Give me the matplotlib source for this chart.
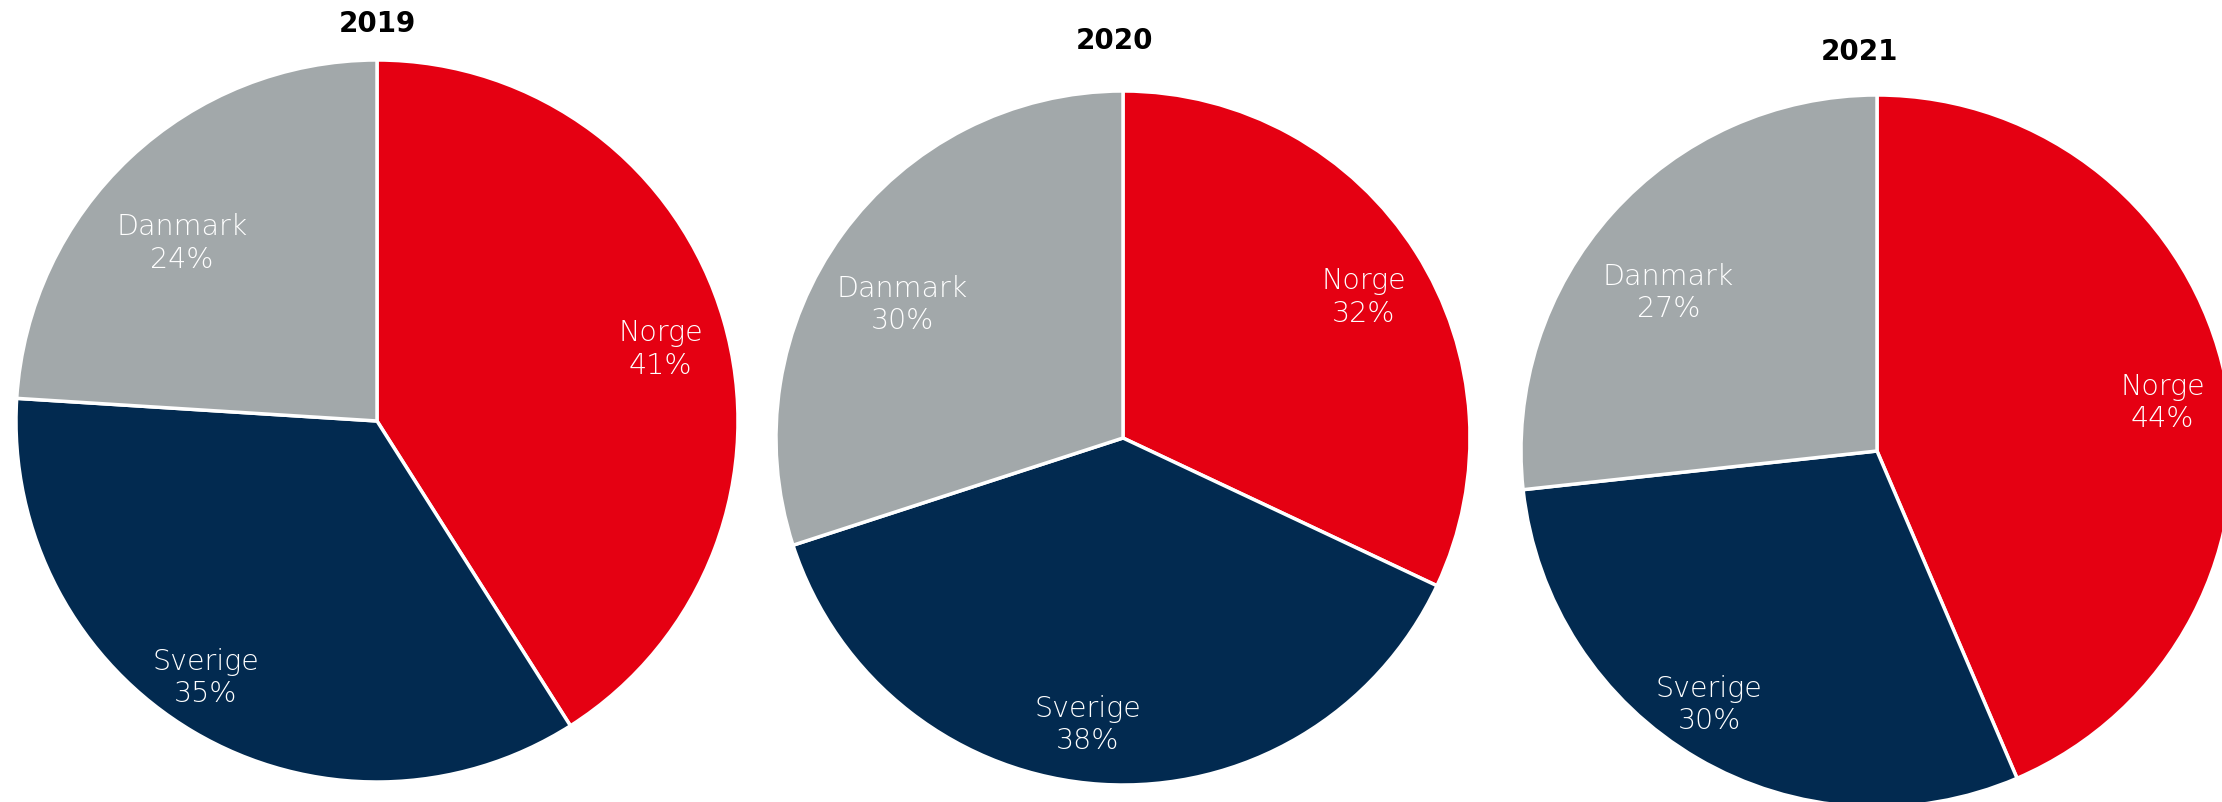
#!/usr/bin/env python3
"""Market split per year (Norge / Sverige / Danmark) as three pies."""

import matplotlib.pyplot as plt
import numpy as np
from matplotlib.transforms import offset_copy

years = ['2019', '2020', '2021']
countries = ['Norge', 'Sverige', 'Danmark']
share_2019 = [41, 35, 24]
share_2020 = [32, 38, 30]
share_2021 = [44, 30, 27]
shares = [share_2019, share_2020, share_2021]

colors = ['#E50012', '#022A50', '#A2A8AA']

# layout in pixels of the 2222x802 canvas: pie centre, radius, title centre
W, H = 2222, 802
pie_centres = [(377, 421), (1123, 438), (1877, 451)]
pie_radii = [361, 347, 356]
title_pos = [(377, 24), (1114, 41), (1859, 52)]
# label placement per country: fraction of radius, then a nudge in pixels
label_dist = [0.81, 0.84, 0.75]
label_nudge = [(3, -10), (-17, 4), (-10, -20)]

fig = plt.figure(figsize=(W / 100, H / 100), dpi=100)

for i, (year, vals) in enumerate(zip(years, shares)):
    cx, cy = pie_centres[i]
    r = pie_radii[i]
    ax = fig.add_axes([(cx - r) / W, 1 - (cy + r) / H, 2 * r / W, 2 * r / H])
    wedges, _, autotexts = ax.pie(
        vals, colors=colors, startangle=90, counterclock=False,
        autopct='%1.0f%%', pctdistance=0.8,
        wedgeprops=dict(edgecolor='white', linewidth=2.5),
    )
    ax.set_xlim(-1, 1)
    ax.set_ylim(-1, 1)
    ax.set_aspect('equal')
    for w in wedges:
        w.set_clip_on(False)
    for w, t, name, d, (dx, dy) in zip(wedges, autotexts, countries,
                                       label_dist, label_nudge):
        ang = np.deg2rad((w.theta1 + w.theta2) / 2)
        t.set_position((d * np.cos(ang), d * np.sin(ang)))
        t.set_transform(offset_copy(ax.transData, fig=fig, x=dx, y=dy,
                                    units='dots'))
        t.set_text(f'{name}\n{t.get_text()}')
        t.set_color('white')
        t.set_fontsize(20.5)
        t.set_fontfamily('DejaVu Sans')
        t.set_fontweight('light')
        t.set_linespacing(1.2)
        t.set_ha('center')
        t.set_va('center')

    tx, ty = title_pos[i]
    fig.text(tx / W, 1 - ty / H, year, ha='center', va='center',
             fontsize=20, fontweight='bold', family='DejaVu Sans',
             color='black')

plt.savefig('out.png', dpi=100)
plt.close()
